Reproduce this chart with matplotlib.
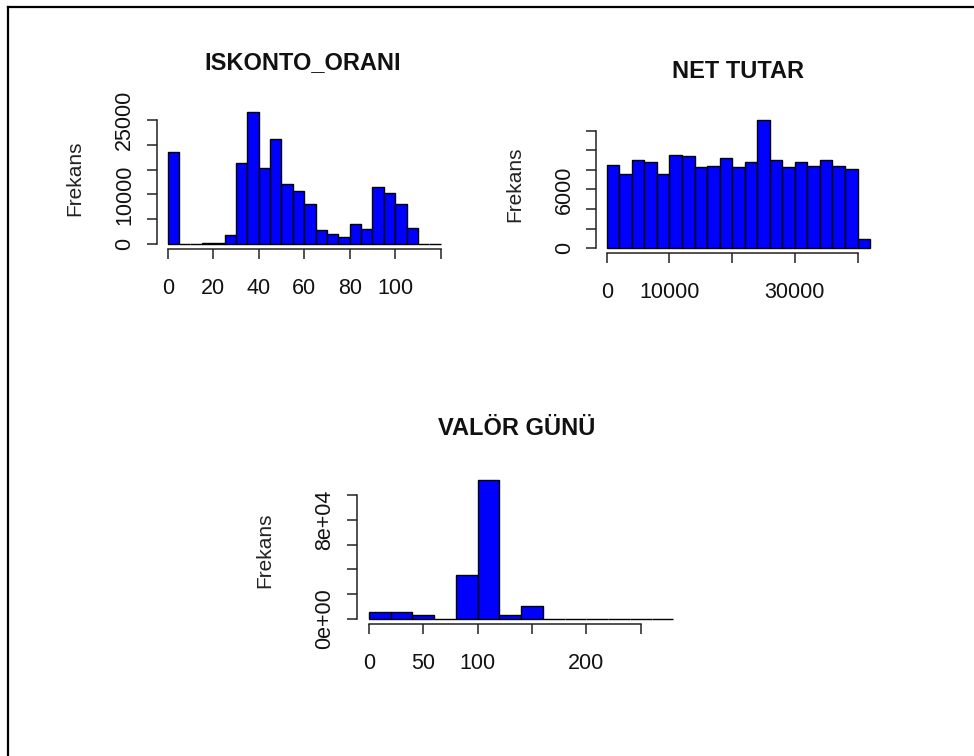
import numpy as np
import matplotlib
matplotlib.use("Agg")
import matplotlib.pyplot as plt
from matplotlib.lines import Line2D

plt.rcParams['font.family'] = ['Liberation Sans', 'DejaVu Sans']

# ---------------- data ----------------
iskonto_edges = list(range(0, 125, 5))
iskonto_counts = [18500, 0, 0, 300, 300, 1750, 16300, 26600, 15300, 21100, 12000, 10750,
                  8050, 2750, 2000, 1450, 4050, 3000, 11550, 10300, 8050, 3200, 0, 0]
iskonto_xticks = [0, 20, 40, 60, 80, 100, 120]
iskonto_xlabels = ['0', '20', '40', '60', '80', '100', '']
iskonto_yticks = [0, 5000, 10000, 15000, 20000, 25000]
iskonto_ylabels = ['0', '', '10000', '', '', '25000']

net_edges = list(range(0, 44000, 2000))
net_counts = [8550, 7550, 9000, 8800, 7550, 9500, 9400, 8300, 8400, 9200, 8300,
              8800, 13100, 9000, 8300, 8800, 8400, 9000, 8400, 8050, 900]
net_xticks = [0, 10000, 20000, 30000, 40000]
net_xlabels = ['0', '10000', '', '30000', '']
net_yticks = [0, 2000, 4000, 6000, 8000, 10000, 12000]
net_ylabels = ['0', '', '', '6000', '', '', '']

valor_edges = list(range(0, 300, 20))
valor_counts = [5400, 5400, 3200, 0, 35000, 111900, 3000, 10500, 0, 0, 0, 0, 0, 0]
valor_xticks = [0, 50, 100, 150, 200, 250]
valor_xlabels = ['0', '50', '100', '', '200', '']
valor_yticks = [0, 20000, 40000, 60000, 80000, 100000]
valor_ylabels = ['0e+00', '', '', '', '8e+04', '']

titles = ['ISKONTO_ORANI', 'NET TUTAR', 'VALÖR GÜNÜ']
ylab = 'Frekans'

# ---------------- layout ----------------
W, H = 974, 756
fig = plt.figure(figsize=(W / 100, H / 100), dpi=100)
fig.patch.set_facecolor('white')


def px_axes(left, right, top, bottom):
    return fig.add_axes([left / W, 1 - bottom / H, (right - left) / W, (bottom - top) / H])


def hist_panel(ax, edges, counts, xticks, xlabels, yticks, ylabels):
    edges = np.asarray(edges, dtype=float)
    counts = np.asarray(counts, dtype=float)
    ax.bar(edges[:-1], counts, width=np.diff(edges), align='edge',
           color='#0000FF', edgecolor='black', linewidth=1.0)
    span = edges[-1] - edges[0]
    ax.set_xlim(edges[0] - 0.04 * span, edges[-1] + 0.04 * span)
    ymax = counts.max()
    ax.set_ylim(-0.04 * ymax, 1.04 * ymax)
    for s in ['top', 'right']:
        ax.spines[s].set_visible(False)
    ax.spines['left'].set_bounds(yticks[0], yticks[-1])
    ax.spines['bottom'].set_bounds(xticks[0], xticks[-1])
    for s in ['left', 'bottom']:
        ax.spines[s].set_linewidth(1.1)
        ax.spines[s].set_color('#222222')
    ax.set_xticks(xticks)
    ax.set_xticklabels(xlabels)
    ax.set_yticks(yticks)
    ax.set_yticklabels(ylabels, rotation=90, va='center')
    ax.tick_params(axis='both', direction='out', length=7.5, width=1.1,
                   color='#222222', labelsize=15.5, labelcolor='#111111')
    ax.tick_params(axis='x', pad=13)
    ax.tick_params(axis='y', pad=8)
    ax.set_facecolor('none')


ax1 = px_axes(156.8, 451.6, 106.7, 249.3)
hist_panel(ax1, iskonto_edges, iskonto_counts, iskonto_xticks, iskonto_xlabels,
           iskonto_yticks, iskonto_ylabels)

ax2 = px_axes(596.2, 880.6, 114.8, 253.4)
hist_panel(ax2, net_edges, net_counts, net_xticks, net_xlabels, net_yticks, net_ylabels)

ax3 = px_axes(356.8, 685.5, 474.9, 624.2)
hist_panel(ax3, valor_edges, valor_counts, valor_xticks, valor_xlabels,
           valor_yticks, valor_ylabels)

# titles (baseline positions in px)
for (x, y), t in zip([(303, 69.3), (738, 78.3), (517, 435)], titles):
    fig.text(x / W, 1 - y / H, t, ha='center', va='baseline', fontsize=17,
             fontweight='bold', color='#111111')

# y labels
for (x, y) in [(75, 178), (515, 184), (265, 550)]:
    fig.text(x / W, 1 - y / H, ylab, ha='center', va='center', rotation=90,
             fontsize=15, color='#222222')

# outer frame (top and left edges visible)
fig.add_artist(Line2D([8 / W, 1.0], [1 - 7 / H, 1 - 7 / H], transform=fig.transFigure,
                      color='black', linewidth=1.6))
fig.add_artist(Line2D([8 / W, 8 / W], [0.0, 1 - 7 / H], transform=fig.transFigure,
                      color='black', linewidth=1.6))

fig.savefig('out.png', dpi=100, facecolor='white')
